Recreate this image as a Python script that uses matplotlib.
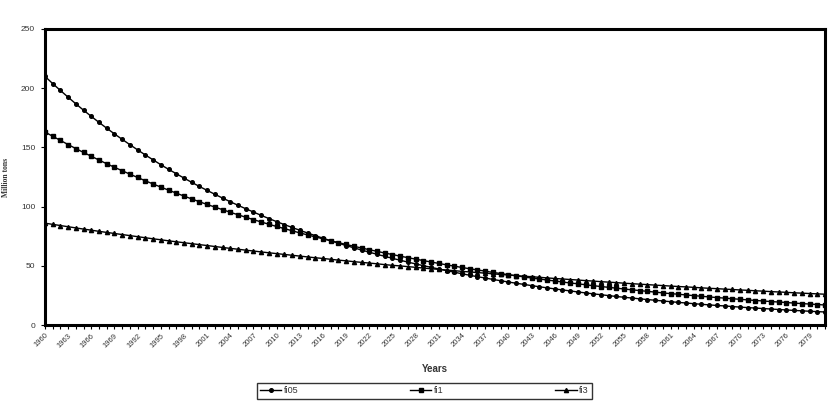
import matplotlib
matplotlib.use("Agg")
import matplotlib.pyplot as plt

# category labels as printed on the original axis (1960-1969, then 1990 onward)
years = list(range(1960, 1970)) + list(range(1990, 2082))

fi05 = [210.0, 203.9, 198.1, 192.4, 186.8, 181.4, 176.2, 171.1, 166.2, 161.4,
        156.8, 152.3, 147.9, 143.6, 139.5, 135.4, 131.5, 127.8, 124.1, 120.5,
        117.0, 113.7, 110.4, 107.2, 104.1, 101.1, 98.2, 95.4, 92.6, 89.9,
        87.3, 84.8, 82.4, 80.0, 77.7, 75.5, 73.3, 71.2, 69.1, 67.1,
        65.2, 63.3, 61.5, 59.7, 58.0, 56.3, 54.7, 53.1, 51.6, 50.1,
        48.7, 47.3, 45.9, 44.6, 43.3, 42.0, 40.8, 39.7, 38.5, 37.4,
        36.3, 35.3, 34.3, 33.3, 32.3, 31.4, 30.5, 29.6, 28.8, 27.9,
        27.1, 26.3, 25.6, 24.8, 24.1, 23.4, 22.8, 22.1, 21.5, 20.9,
        20.3, 19.7, 19.1, 18.6, 18.0, 17.5, 17.0, 16.5, 16.1, 15.6,
        15.1, 14.7, 14.3, 13.9, 13.5, 13.1, 12.7, 12.3, 12.0, 11.6,
        11.3, 11.0]

fi1 = [163.0, 159.4, 155.9, 152.4, 149.0, 145.7, 142.5, 139.3, 136.2, 133.2,
       130.3, 127.4, 124.6, 121.8, 119.1, 116.5, 113.9, 111.4, 108.9, 106.5,
       104.1, 101.8, 99.6, 97.4, 95.2, 93.1, 91.0, 89.0, 87.0, 85.1,
       83.2, 81.4, 79.6, 77.8, 76.1, 74.4, 72.8, 71.1, 69.6, 68.0,
       66.5, 65.0, 63.6, 62.2, 60.8, 59.5, 58.1, 56.9, 55.6, 54.4,
       53.2, 52.0, 50.8, 49.7, 48.6, 47.5, 46.5, 45.5, 44.4, 43.5,
       42.5, 41.6, 40.6, 39.7, 38.9, 38.0, 37.2, 36.3, 35.5, 34.8,
       34.0, 33.2, 32.5, 31.8, 31.1, 30.4, 29.7, 29.1, 28.4, 27.8,
       27.1, 26.5, 26.0, 25.4, 24.8, 24.3, 23.7, 23.2, 22.7, 22.2,
       21.7, 21.2, 20.7, 20.3, 19.8, 19.4, 19.0, 18.5, 18.1, 17.7,
       17.3, 16.9]

fi3 = [86.0, 85.0, 84.0, 83.0, 82.0, 81.0, 80.1, 79.1, 78.2, 77.3,
       76.4, 75.5, 74.6, 73.7, 72.8, 72.0, 71.1, 70.3, 69.5, 68.7,
       67.9, 67.1, 66.3, 65.5, 64.7, 64.0, 63.2, 62.5, 61.7, 61.0,
       60.3, 59.6, 58.9, 58.2, 57.5, 56.8, 56.2, 55.5, 54.8, 54.2,
       53.5, 52.9, 52.3, 51.7, 51.0, 50.4, 49.9, 49.3, 48.7, 48.1,
       47.5, 47.0, 46.4, 45.9, 45.3, 44.8, 44.3, 43.8, 43.2, 42.7,
       42.2, 41.7, 41.2, 40.8, 40.3, 39.8, 39.3, 38.9, 38.4, 38.0,
       37.5, 37.1, 36.6, 36.2, 35.8, 35.3, 34.9, 34.5, 34.1, 33.7,
       33.3, 32.9, 32.5, 32.2, 31.8, 31.4, 31.0, 30.7, 30.3, 30.0,
       29.6, 29.3, 28.9, 28.6, 28.2, 27.9, 27.6, 27.2, 26.9, 26.6,
       26.3, 26.0]

series_names = ["fi05", "fi1", "fi3"]
y_ticks = [0, 50, 100, 150, 200, 250]

plt.rcParams['font.family'] = ['Liberation Sans', 'DejaVu Sans']

fig = plt.figure(figsize=(8.32, 4.08), dpi=100)
ax = fig.add_axes([0.054, 0.2034, 0.9376, 0.7256])

x = list(range(len(years)))
ax.plot(x, fi05, color='black', lw=1.0, marker='o', ms=2.6, label=series_names[0])
ax.plot(x, fi1, color='black', lw=1.0, marker='s', ms=2.8, label=series_names[1])
ax.plot(x, fi3, color='black', lw=1.0, marker='^', ms=3.0, label=series_names[2])

ax.set_xlim(x[0], x[-1])
ax.set_ylim(0, 250)
ax.set_yticks(y_ticks)
ax.set_yticklabels([str(v) for v in y_ticks], fontsize=6, color='#333333')
ax.set_xticks(x)
ax.set_xticklabels([str(y) if i % 3 == 0 else '' for i, y in enumerate(years)],
                   fontsize=5.5, color='#333333', rotation=45, ha='right',
                   rotation_mode='anchor')
ax.tick_params(axis='both', direction='out', length=3, width=0.8, pad=2)
ax.tick_params(axis='y', pad=4)

for sp in ax.spines.values():
    sp.set_linewidth(2.2)
    sp.set_color('black')

ax.set_xlabel("Years", fontsize=7, fontweight='bold', color='#333333', labelpad=11)
ax.set_ylabel("Million tons", fontsize=5.5, family=['Liberation Serif', 'DejaVu Serif'],
              fontweight='bold', color='#333333', labelpad=8)

leg = fig.legend(loc='center', bbox_to_anchor=(0.51, 0.042), ncol=3, fontsize=6.5,
                 frameon=True, fancybox=False, edgecolor='black', columnspacing=12.3,
                 handlelength=2.4, handletextpad=0.3, borderpad=0.35,
                 borderaxespad=0)
leg.get_frame().set_linewidth(1.0)
for t in leg.get_texts():
    t.set_color('#333333')

fig.savefig("out.png", dpi=100)
